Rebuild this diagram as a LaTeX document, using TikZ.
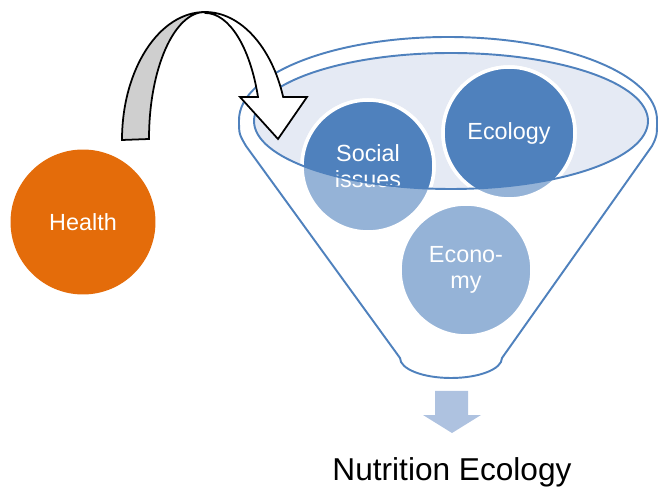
\documentclass[tikz,border=0pt]{standalone}
\usepackage{fontspec}
\setmainfont{Liberation Sans}
\usepackage{tikz}
\usetikzlibrary{calc}
\definecolor{accblue}{HTML}{4F81BD}
\definecolor{paleblue}{HTML}{95B3D7}
\definecolor{rimfill}{HTML}{E5EAF4}
\definecolor{healthorange}{HTML}{E46C0A}
\definecolor{downblue}{HTML}{AEC2E0}
\definecolor{ribbongray}{HTML}{CFCFCF}
\tikzset{
funnelline/.style={draw=accblue, line width=1.1pt}, % outline of the funnel
bubble/.style={circle, minimum size=2.64cm, inner sep=0pt, text=white, align=center,
  font=\fontsize{13.3}{15}\selectfont}, % the round items
ring/.style={draw=white, line width=2pt}, % white border round the items
ribbon/.style={draw=black, line width=1pt, line join=miter}, % curved arrow
}

\begin{document}
\begin{tikzpicture}[x=0.02cm, y=-0.02cm]
    \useasboundingbox (0,0) rectangle (658,492);
    % funnel body
    \draw[funnelline] (246,146) -- (400,358)
        arc[start angle=180, end angle=0, x radius=51, y radius=20]
        -- (652,146) .. controls (657,136) .. (657,120)
        arc[start angle=0, end angle=-180, x radius=209, y radius=83]
        .. controls (239,134) .. cycle;
    \fill[rimfill] (451,121) ellipse [x radius=197, y radius=68];
    % items, pale below the rim
    \node[bubble, ring, fill=paleblue] (social)  at (368,166) {Social\\issues};
    \node[bubble, ring, fill=paleblue] (ecology) at (509,133) {Ecology};
    \node[bubble, ring, fill=paleblue] (economy) at (466,270) {Econo-\\my};
    % items, dark inside the rim
    \begin{scope}
        \clip (451,121) ellipse [x radius=197, y radius=68];
        \node[bubble, ring, fill=accblue] (socialin)  at (social)  {Social\\issues};
        \node[bubble, ring, fill=accblue] (ecologyin) at (ecology) {Ecology};
    \end{scope}
    \draw[funnelline] (451,121) ellipse [x radius=197, y radius=68];
    % health
    \node[bubble, fill=healthorange, minimum size=2.9cm] (health) at (83,222) {Health};
    % curved arrow into the funnel
    \coordinate (bend) at (205,12);
    \draw[ribbon, fill=ribbongray] (122,140)
        arc[start angle=-180, end angle=-90, x radius=83, y radius=128]
        arc[start angle=-90, end angle=-180, x radius=56, y radius=127] -- cycle;
    \draw[ribbon, fill=white] (bend)
        arc[start angle=-90, end angle=-19.6, x radius=83, y radius=128]
        -- (307,97) -- (278,139) -- (240,97) -- (258,97)
        arc[start angle=-19.8, end angle=-90, x radius=56, y radius=127] -- cycle;
    % output
    \fill[downblue] (435,391) -- (468,391) -- (468,415) -- (481,415) -- (452,433)
        -- (423,415) -- (435,415) -- cycle;
    \node[anchor=base, font=\fontsize{18}{20}\selectfont] (result) at (452,480) {Nutrition Ecology};
\end{tikzpicture}
\end{document}
